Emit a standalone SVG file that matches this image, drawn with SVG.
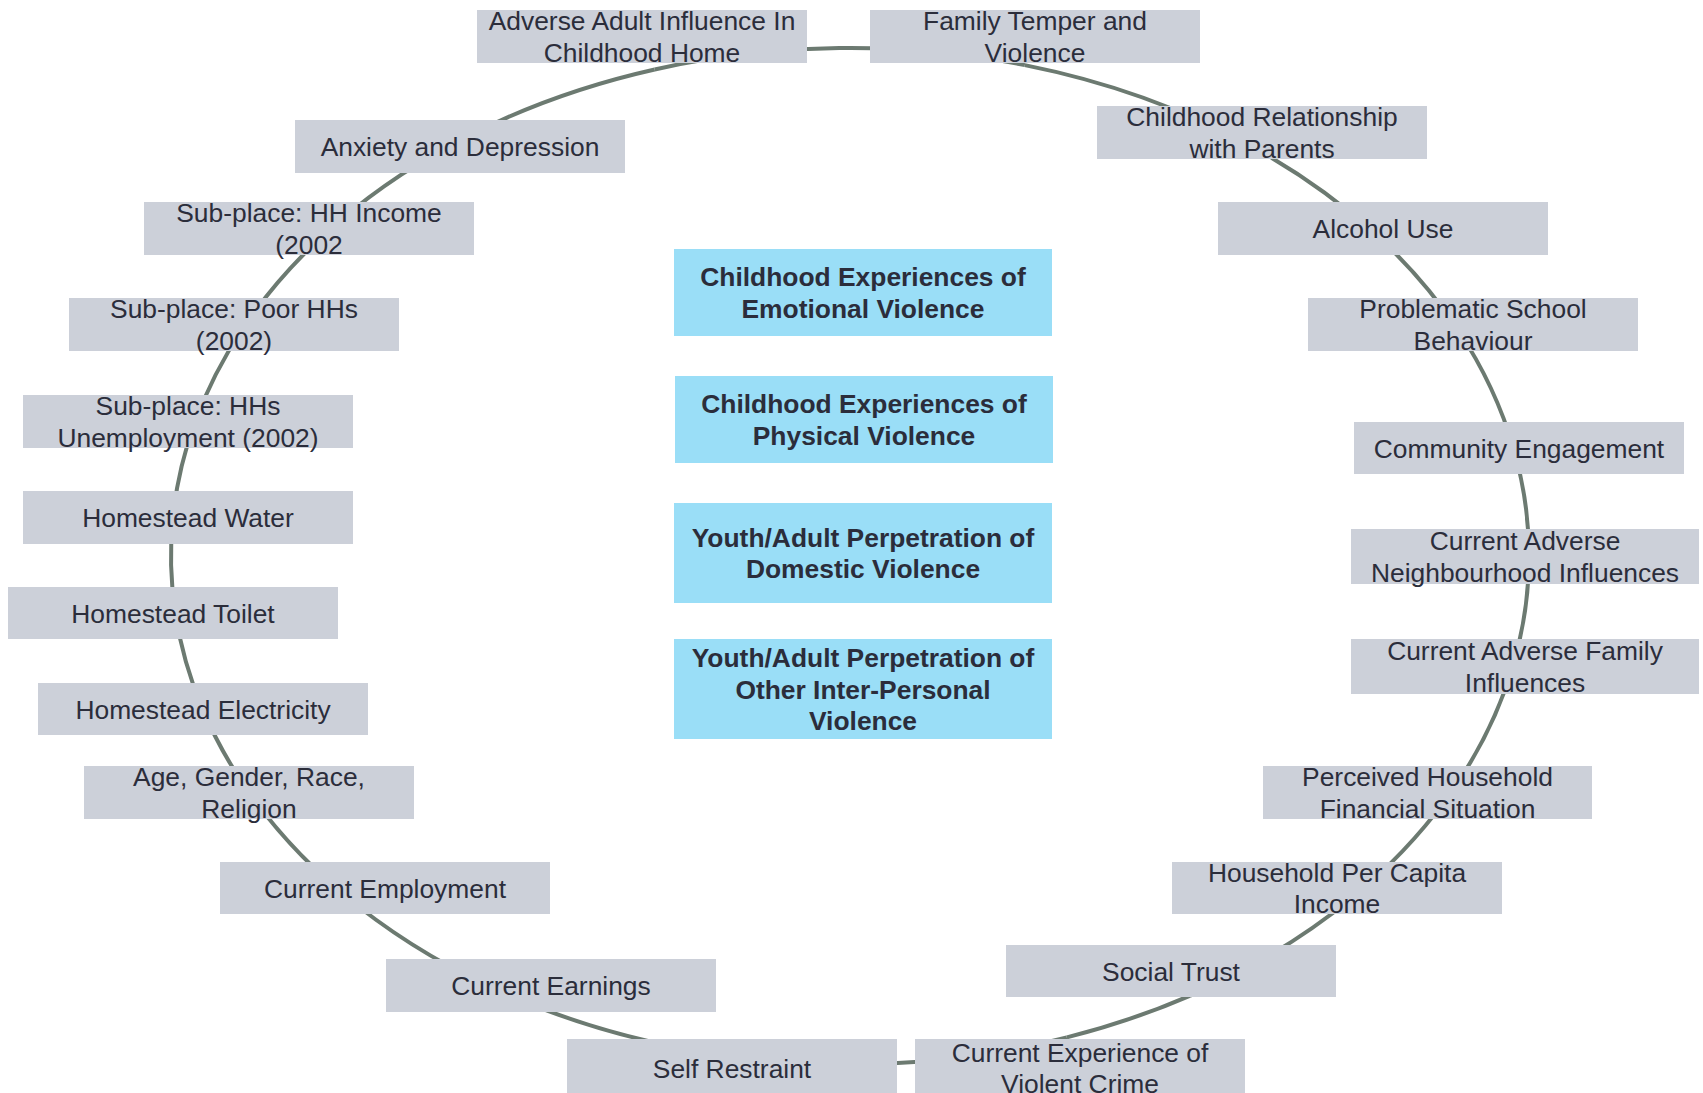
<svg xmlns="http://www.w3.org/2000/svg" width="1703" height="1093" viewBox="0 0 1703 1093">
<style>
  .bg{fill:#ffffff}
  .edge{fill:none;stroke:#6c7a71;stroke-width:4}
  .box{fill:#ccd0d9}
  .core{fill:#9adef7}
  .lbl{font-family:"Liberation Sans",Arial,Helvetica,sans-serif;font-size:26.4px;fill:#2b2d3b;text-anchor:middle}
  .b{font-weight:bold}
</style>
<rect class="bg" x="0" y="0" width="1703" height="1093"/>
<g id="connectors">
  <path class="edge" d="M654.7,69.5 A679,508 0 0 1 1024.8,65.1"/>
  <path class="edge" d="M1024.8,65.1 A679,508 0 0 1 1249.6,145.3"/>
  <path class="edge" d="M1249.6,145.3 A679,508 0 0 1 1374.5,233.4"/>
  <path class="edge" d="M1374.5,233.4 A679,508 0 0 1 1458.1,330"/>
  <path class="edge" d="M1458.1,330 A679,508 0 0 1 1513.7,448.9"/>
  <path class="edge" d="M1513.7,448.9 A679,508 0 0 1 1529,556.5"/>
  <path class="edge" d="M1529,556.5 A679,508 0 0 1 1513.3,664.6"/>
  <path class="edge" d="M1513.3,664.6 A679,508 0 0 1 1445.6,799.9"/>
  <path class="edge" d="M1445.6,799.9 A679,508 0 0 1 1351.6,898.3"/>
  <path class="edge" d="M1351.6,898.3 A679,508 0 0 1 1189.7,995.8"/>
  <path class="edge" d="M1189.7,995.8 A679,508 0 0 1 1066.8,1037.4"/>
  <path class="edge" d="M1066.8,1037.4 A679,508 0 0 1 734.1,1056.5"/>
  <path class="edge" d="M734.1,1056.5 A679,508 0 0 1 536,1006.4"/>
  <path class="edge" d="M536,1006.4 A679,508 0 0 1 358.8,906.7"/>
  <path class="edge" d="M358.8,906.7 A679,508 0 0 1 249,792.5"/>
  <path class="edge" d="M249,792.5 A679,508 0 0 1 202.6,709.1"/>
  <path class="edge" d="M202.6,709.1 A679,508 0 0 1 175.3,612.8"/>
  <path class="edge" d="M175.3,612.8 A679,508 0 0 1 173,516.6"/>
  <path class="edge" d="M173,516.6 A679,508 0 0 1 194.7,422.9"/>
  <path class="edge" d="M194.7,422.9 A679,508 0 0 1 243.2,328"/>
  <path class="edge" d="M243.2,328 A679,508 0 0 1 322.1,236.5"/>
  <path class="edge" d="M322.1,236.5 A679,508 0 0 1 456,142.3"/>
  <path class="edge" d="M456,142.3 A679,508 0 0 1 654.7,69.5"/>
</g>

<g id="n-adverse-adult">
  <rect class="box" x="477" y="10" width="330" height="53"/>
  <text class="lbl"><tspan x="642" y="30.1">Adverse Adult Influence In</tspan><tspan x="642" y="61.8">Childhood Home</tspan></text>
</g>
<g id="n-family-temper">
  <rect class="box" x="870" y="10" width="330" height="53"/>
  <text class="lbl"><tspan x="1035" y="30.1">Family Temper and</tspan><tspan x="1035" y="61.8">Violence</tspan></text>
</g>
<g id="n-childhood-relationship">
  <rect class="box" x="1097" y="106" width="330" height="53"/>
  <text class="lbl"><tspan x="1262" y="126.1">Childhood Relationship</tspan><tspan x="1262" y="157.8">with Parents</tspan></text>
</g>
<g id="n-alcohol">
  <rect class="box" x="1218" y="202" width="330" height="53"/>
  <text class="lbl" x="1383" y="238">Alcohol Use</text>
</g>
<g id="n-school">
  <rect class="box" x="1308" y="298" width="330" height="53"/>
  <text class="lbl"><tspan x="1473" y="318.1">Problematic School</tspan><tspan x="1473" y="349.8">Behaviour</tspan></text>
</g>
<g id="n-community">
  <rect class="box" x="1354" y="422" width="330" height="52"/>
  <text class="lbl" x="1519" y="457.5">Community Engagement</text>
</g>
<g id="n-neighbourhood">
  <rect class="box" x="1351" y="529" width="348" height="55"/>
  <text class="lbl"><tspan x="1525" y="550.1">Current Adverse</tspan><tspan x="1525" y="581.8">Neighbourhood Influences</tspan></text>
</g>
<g id="n-family-influences">
  <rect class="box" x="1351" y="639" width="348" height="55"/>
  <text class="lbl"><tspan x="1525" y="660.1">Current Adverse Family</tspan><tspan x="1525" y="691.8">Influences</tspan></text>
</g>
<g id="n-perceived">
  <rect class="box" x="1263" y="766" width="329" height="53"/>
  <text class="lbl"><tspan x="1427.5" y="786.1">Perceived Household</tspan><tspan x="1427.5" y="817.8">Financial Situation</tspan></text>
</g>
<g id="n-per-capita">
  <rect class="box" x="1172" y="862" width="330" height="52"/>
  <text class="lbl"><tspan x="1337" y="881.6">Household Per Capita</tspan><tspan x="1337" y="913.3">Income</tspan></text>
</g>
<g id="n-social-trust">
  <rect class="box" x="1006" y="945" width="330" height="52"/>
  <text class="lbl" x="1171" y="980.5">Social Trust</text>
</g>
<g id="n-violent-crime">
  <rect class="box" x="915" y="1039" width="330" height="54"/>
  <text class="lbl"><tspan x="1080" y="1061.5">Current Experience of</tspan><tspan x="1080" y="1093.2">Violent Crime</tspan></text>
</g>
<g id="n-self-restraint">
  <rect class="box" x="567" y="1039" width="330" height="54"/>
  <text class="lbl" x="732" y="1078">Self Restraint</text>
</g>
<g id="n-earnings">
  <rect class="box" x="386" y="959" width="330" height="53"/>
  <text class="lbl" x="551" y="995">Current Earnings</text>
</g>
<g id="n-employment">
  <rect class="box" x="220" y="862" width="330" height="52"/>
  <text class="lbl" x="385" y="897.5">Current Employment</text>
</g>
<g id="n-age-gender">
  <rect class="box" x="84" y="766" width="330" height="53"/>
  <text class="lbl"><tspan x="249" y="786.1">Age, Gender, Race,</tspan><tspan x="249" y="817.8">Religion</tspan></text>
</g>
<g id="n-electricity">
  <rect class="box" x="38" y="683" width="330" height="52"/>
  <text class="lbl" x="203" y="718.5">Homestead Electricity</text>
</g>
<g id="n-toilet">
  <rect class="box" x="8" y="587" width="330" height="52"/>
  <text class="lbl" x="173" y="622.5">Homestead Toilet</text>
</g>
<g id="n-water">
  <rect class="box" x="23" y="491" width="330" height="53"/>
  <text class="lbl" x="188" y="527">Homestead Water</text>
</g>
<g id="n-unemployment">
  <rect class="box" x="23" y="395" width="330" height="53"/>
  <text class="lbl"><tspan x="188" y="415.1">Sub-place: HHs</tspan><tspan x="188" y="446.8">Unemployment (2002)</tspan></text>
</g>
<g id="n-poor-hhs">
  <rect class="box" x="69" y="298" width="330" height="53"/>
  <text class="lbl"><tspan x="234" y="318.1">Sub-place: Poor HHs</tspan><tspan x="234" y="349.8">(2002)</tspan></text>
</g>
<g id="n-hh-income">
  <rect class="box" x="144" y="202" width="330" height="53"/>
  <text class="lbl"><tspan x="309" y="222.1">Sub-place: HH Income</tspan><tspan x="309" y="253.8">(2002</tspan></text>
</g>
<g id="n-anxiety">
  <rect class="box" x="295" y="120" width="330" height="53"/>
  <text class="lbl" x="460" y="156">Anxiety and Depression</text>
</g>

<g id="n-emotional">
  <rect class="core" x="674" y="249" width="378" height="87"/>
  <text class="lbl b"><tspan x="863" y="286.1">Childhood Experiences of</tspan><tspan x="863" y="317.8">Emotional Violence</tspan></text>
</g>
<g id="n-physical">
  <rect class="core" x="675" y="376" width="378" height="87"/>
  <text class="lbl b"><tspan x="864" y="413.1">Childhood Experiences of</tspan><tspan x="864" y="444.8">Physical Violence</tspan></text>
</g>
<g id="n-domestic">
  <rect class="core" x="674" y="503" width="378" height="100"/>
  <text class="lbl b"><tspan x="863" y="546.6">Youth/Adult Perpetration of</tspan><tspan x="863" y="578.3">Domestic Violence</tspan></text>
</g>
<g id="n-other">
  <rect class="core" x="674" y="639" width="378" height="100"/>
  <text class="lbl b"><tspan x="863" y="666.8">Youth/Adult Perpetration of</tspan><tspan x="863" y="698.5">Other Inter-Personal</tspan><tspan x="863" y="730.2">Violence</tspan></text>
</g>
</svg>
